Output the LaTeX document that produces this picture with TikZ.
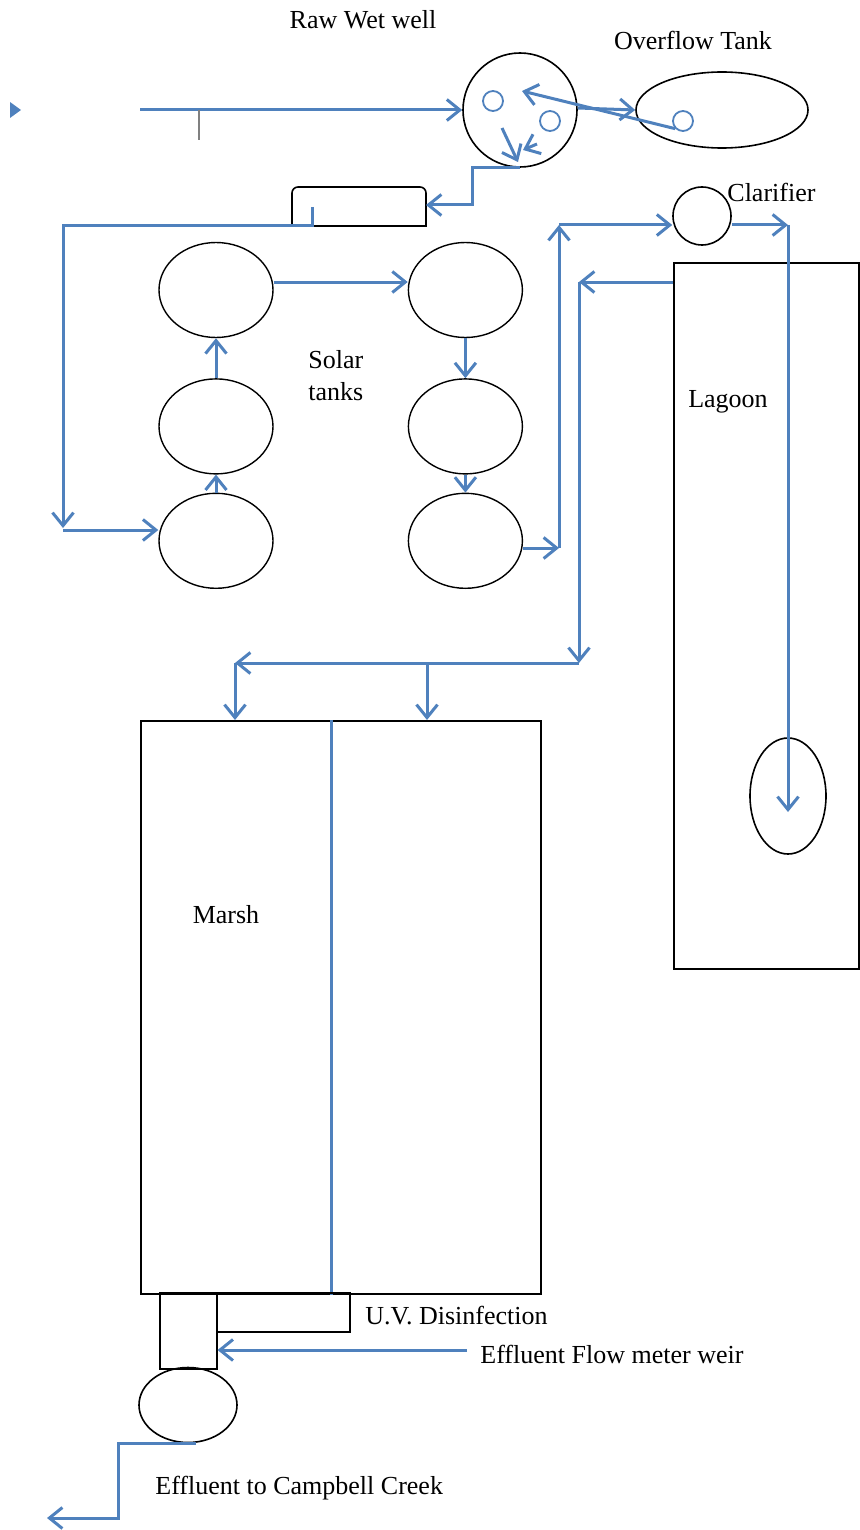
\documentclass[tikz,border=0pt]{standalone}
\usepackage{fontspec}
\setmainfont{Liberation Serif}
\usetikzlibrary{positioning,arrows.meta,shapes.geometric}
\definecolor{flowblue}{RGB}{79,129,189}
\tikzset{
  flow/.style={draw=flowblue, line width=1.5pt, -{Straight Barb[length=6.5pt,width=10.5pt,line width=1.5pt]}},
  pipe/.style={draw=flowblue, line width=1.5pt},
  tank/.style={ellipse, draw, line width=0.7pt, minimum width=57pt, minimum height=47.5pt, inner sep=0pt},
  basin/.style={rectangle, draw, line width=0.8pt, inner sep=0pt},
  pump/.style={circle, draw=flowblue, line width=0.9pt, minimum size=10pt, inner sep=0pt},
  txt/.style={font=\fontsize{13}{16}\selectfont, inner sep=0pt}
}

\begin{document}
\begin{tikzpicture}[x=0.5pt,y=-0.5pt]
\useasboundingbox (0,0) rectangle (859,1530);

% wet well and overflow
\node[circle, draw, line width=0.8pt, minimum size=57pt, inner sep=0pt] (wetwell) at (520,110) {};
\node[ellipse, draw, line width=0.8pt, minimum width=86pt, minimum height=38pt, inner sep=0pt] (overflow) at (722,110) {};
\node[pump] (pumpA) at (493,101) {};
\node[pump] (pumpB) at (550,121) {};
\node[pump] (pumpC) at (683,121) {};
\node[txt] (wetlbl) at (363,20) {Raw Wet well};
\node[txt] (overlbl) at (693,40) {Overflow Tank};

% inflow
\coordinate (feed) at (10,110);
\coordinate (inlet) at (140,110);
\coordinate (tick) at (199,110);
\fill[flowblue] ([yshift=4pt]feed) -- ++(11,8) -- ([yshift=-4pt]feed) -- cycle;
\draw[flow] (inlet) -- (wetwell.west);
\draw[gray, line width=0.6pt] (tick) -- ++(0,30);

\draw[flow] ([yshift=1pt]wetwell.east) -- (overflow.west);
\coordinate (wwback) at (522,91);
\draw[flow] (pumpC.south west) -- (wwback);
\coordinate (wwdrop) at (502,128);
\coordinate (wwkick) at (537,144);
\draw[flow] (wwdrop) -- ++(16,34);
\draw[flow] (wwkick) -- ++(-14,6);

% screen
\draw[line width=0.8pt, rounded corners=3pt] (292,226) -- (292,187) -- (426,187) [sharp corners] -- (426,226) -- cycle;
\coordinate (screen) at (426,205);
\coordinate (screenout) at (312,207);
\draw[flow] (wetwell.south) -- ++(-48,0) |- (screen);

% solar tanks
\node[tank] (s3) at (216,290) {};
\node[tank, below=20pt of s3] (s2) {};
\node[tank, below=9pt of s2] (s1) {};
\node[tank, right=67pt of s3] (s4) {};
\node[tank, below=20pt of s4] (s5) {};
\node[tank, below=9pt of s5] (s6) {};
\node[txt, align=left, anchor=north west] (solarlbl) at (308,350) {Solar\\tanks};

\coordinate (leftdown) at (63,528);
\coordinate (leftcorner) at (63,530);
\draw[flow] (screenout) |- (63,226) -- (leftdown);
\draw[flow] (leftcorner) -- (leftcorner -| s1.west);
\draw[flow] (s1) -- (s2);
\draw[flow] (s2) -- (s3);
\draw[flow] ([yshift=4pt]s3.east) -- ([yshift=4pt]s4.west);
\draw[flow] (s4) -- (s5);
\draw[flow] (s5) -- (s6);

% clarifier and lagoon
\node[circle, draw, line width=0.8pt, minimum size=29pt, inner sep=0pt] (clarifier) at (702,216) {};
\node[txt, anchor=west] (clarlbl) at (727,192) {Clarifier};
\node[basin, minimum width=92.5pt, minimum height=353pt, anchor=north west] (lagoon) at (673,262) {};
\node[ellipse, draw, line width=0.8pt, minimum width=38pt, minimum height=58pt, inner sep=0pt] (pond) at (788,796) {};
\node[txt] (lagoonlbl) at (728,402) {Lagoon};

\coordinate (riser) at (559,548);
\coordinate (risertop) at (559,225);
\draw[flow] (riser -| s6.east) -- (riser);
\draw[flow] (riser) -- (risertop);
\draw[flow] (risertop) -- (risertop -| clarifier.west);
\coordinate (drop) at (788,225);
\draw[flow] ([yshift=-4.5pt]clarifier.east) -- (drop);
\draw[flow] (drop) -- ([yshift=-8pt]pond.center);

\coordinate (ret) at (579,282);
\coordinate (split) at (579,663);
\draw[flow] (lagoon.west |- ret) -- (ret);
\draw[flow] (ret) -- (split);

% marsh
\node[basin, minimum width=200pt, minimum height=286.5pt, anchor=north west] (marsh) at (140,720) {};
\node[txt] (marshlbl) at (226,915) {Marsh};
\coordinate (marshA) at (235,663);
\coordinate (marshB) at (427,663);
\coordinate (divtop) at (331,720);
\draw[flow] (split) -- (marshA);
\draw[flow] (marshA) -- (marshA |- marsh.north);
\draw[flow] (marshB) -- (marshB |- marsh.north);
\draw[pipe] (divtop) -- (divtop |- marsh.south);

% disinfection, weir, outfall
\node[basin, minimum width=66.5pt, minimum height=19.5pt, anchor=north west] (uv) at (216,1292) {};
\node[basin, minimum width=28.5pt, minimum height=38pt, anchor=north west] (weir) at (159,1292) {};
\node[ellipse, draw, line width=0.8pt, minimum width=49pt, minimum height=37.5pt, inner sep=0pt] (outpond) at (188,1405) {};
\node[txt, anchor=west] (uvlbl) at (365,1316) {U.V. Disinfection};
\node[txt, anchor=west] (weirlbl) at (480,1354) {Effluent Flow meter weir};
\node[txt, anchor=west] (creeklbl) at (155,1488) {Effluent to Campbell Creek};

\coordinate (weirin) at (467,1350);
\coordinate (creek) at (47,1518);
\draw[flow] (weirin) -- (weirin -| weir.east);
\draw[flow] ([xshift=4pt]outpond.south) -| (118,1518) -- (creek);
\end{tikzpicture}
\end{document}
